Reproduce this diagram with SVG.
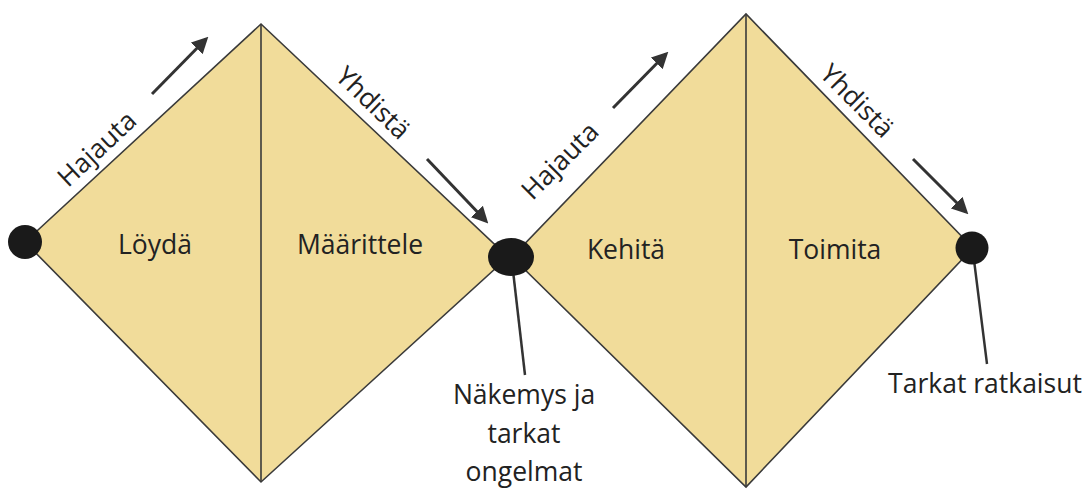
<svg xmlns="http://www.w3.org/2000/svg" width="1092" height="490" viewBox="0 0 1092 490">
<style>
.dia{fill:#F1DC9A;stroke:#3a3a3a;stroke-width:1.6;stroke-linejoin:miter}
.div{stroke:#3a3a3a;stroke-width:1.6}
.dot{fill:#1a1a1a}
.t{font-family:"Open Sans","Noto Sans",sans-serif;font-size:26.5px;fill:#222}
.lbl{text-anchor:middle}
.arr{stroke:#333;stroke-width:3;fill:none;marker-end:url(#ah)}
.ptr{stroke:#333;stroke-width:2.5}
</style>
<defs>
<marker id="ah" viewBox="0 0 10 10" refX="8" refY="5" markerWidth="5.5" markerHeight="5.5" orient="auto" markerUnits="strokeWidth">
<path d="M0,0 L10,5 L0,10 z" fill="#333"/>
</marker>
</defs>
<g id="diamond1">
<polygon class="dia" points="25,242 261,24 508,257 261,482"/>
<line class="div" x1="261" y1="24" x2="261" y2="482"/>
<text class="t lbl" x="155" y="254">Löydä</text>
<text class="t lbl" x="360" y="254">Määrittele</text>
</g>
<g id="diamond2">
<polygon class="dia" points="512,257 746,14 973,248 746,487"/>
<line class="div" x1="746" y1="14" x2="746" y2="487"/>
<text class="t lbl" x="626" y="259">Kehitä</text>
<text class="t lbl" x="835" y="259">Toimita</text>
</g>
<g id="edge-labels">
<text class="t lbl" transform="translate(97,149) rotate(-43)" y="9">Hajauta</text>
<text class="t lbl" transform="translate(373,103) rotate(44)" y="9">Yhdistä</text>
<text class="t lbl" transform="translate(560,161) rotate(-45)" y="9">Hajauta</text>
<text class="t lbl" transform="translate(857,101) rotate(45)" y="9">Yhdistä</text>
</g>
<g id="connectors">
<line class="arr" x1="152" y1="94" x2="206" y2="39"/>
<line class="arr" x1="613" y1="108" x2="666" y2="54"/>
<line class="arr" x1="427" y1="159" x2="486" y2="221"/>
<line class="arr" x1="913" y1="159" x2="966" y2="212"/>
<line class="ptr" x1="512" y1="262" x2="525" y2="375"/>
<line class="ptr" x1="973" y1="252" x2="987" y2="364"/>
</g>
<g id="dot1"><circle class="dot" cx="25" cy="242" r="17"/></g>
<g id="dot2"><ellipse class="dot" cx="511" cy="257" rx="23" ry="19"/></g>
<g id="dot3"><circle class="dot" cx="972" cy="248" r="16.5"/></g>
<g id="result1">
<text class="t lbl" x="524" y="404">Näkemys ja</text>
<text class="t lbl" x="524" y="443">tarkat</text>
<text class="t lbl" x="524" y="481">ongelmat</text>
</g>
<g id="result2">
<text class="t lbl" x="985" y="393">Tarkat ratkaisut</text>
</g>
</svg>
